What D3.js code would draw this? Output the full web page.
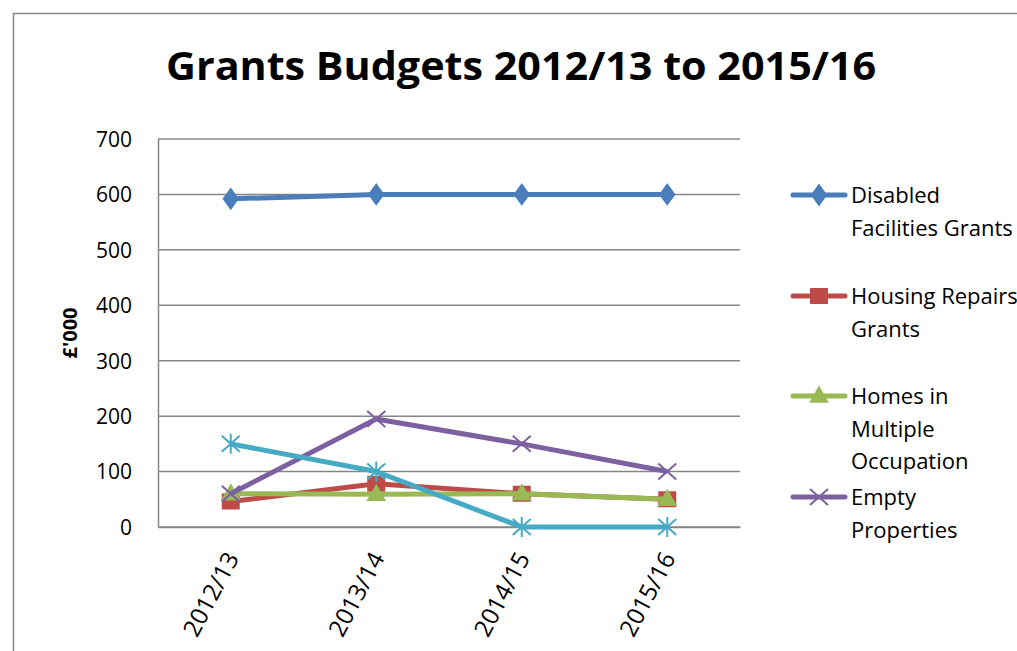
<!DOCTYPE html>
<html>
<head>
<meta charset="utf-8">
<title>Grants Budgets</title>
<script src="https://cdnjs.cloudflare.com/ajax/libs/d3/7.8.5/d3.min.js"></script>
<style>
  body { margin: 0; background: #fff; }
  text { font-family: "Open Sans", "Noto Sans", sans-serif; fill: #000; }
</style>
</head>
<body>
<svg id="chart" width="1017" height="651"></svg>
<script>
// data
const years = ["2012/13", "2013/14", "2014/15", "2015/16"];
const disabledFacilities = [592, 600, 600, 600];
const housingRepairs = [46, 78, 60, 50];
const homesMultiple = [60, 59, 60, 50];
const emptyProperties = [60, 195, 150, 100];
const otherGrants = [150, 100, 0, 0];
const yTicks = [0, 100, 200, 300, 400, 500, 600, 700];

const series = [
  { name: ["Disabled", "Facilities Grants"], values: disabledFacilities, color: "#4a7ebb", marker: "diamond" },
  { name: ["Housing Repairs", "Grants"], values: housingRepairs, color: "#be4b48", marker: "square" },
  { name: ["Homes in", "Multiple", "Occupation"], values: homesMultiple, color: "#98b954", marker: "triangle" },
  { name: ["Empty", "Properties"], values: emptyProperties, color: "#7d60a0", marker: "x" },
  { name: null, values: otherGrants, color: "#46aac5", marker: "star" }
];

const svg = d3.select("#chart");

// outer chart frame (runs off the right and bottom edges)
svg.append("rect")
  .attr("x", 13.5).attr("y", 13.5)
  .attr("width", 1100).attr("height", 700)
  .attr("fill", "none").attr("stroke", "#868686").attr("stroke-width", 1.5);

svg.append("text")
  .attr("x", 521).attr("y", 80)
  .attr("text-anchor", "middle")
  .attr("font-size", 40).attr("font-weight", "bold")
  .attr("textLength", 710).attr("lengthAdjust", "spacingAndGlyphs")
  .text("Grants Budgets 2012/13 to 2015/16");

const plotL = 158, plotR = 740, plotT = 139, plotB = 527;

const x = d3.scaleBand().domain(years).range([plotL, plotR]);
const y = d3.scaleLinear().domain([0, 700]).range([plotB, plotT]);

// gridlines
svg.append("g")
  .selectAll("line")
  .data(yTicks)
  .join("line")
  .attr("x1", plotL).attr("x2", plotR)
  .attr("y1", d => y(d)).attr("y2", d => y(d))
  .attr("stroke", "#868686").attr("stroke-width", 1.5);

// y axis
const yAxis = svg.append("g")
  .attr("transform", `translate(${plotL},0)`)
  .call(d3.axisLeft(y).tickValues(yTicks).tickSize(0).tickPadding(26));
yAxis.select(".domain").attr("stroke", "#868686").attr("stroke-width", 1.5);
yAxis.selectAll("text")
  .attr("font-size", 21)
  .attr("font-family", "Open Sans, sans-serif")
  .attr("dy", "0.35em");

svg.append("text")
  .attr("transform", `translate(77,${(plotT + plotB) / 2}) rotate(-90)`)
  .attr("text-anchor", "middle")
  .attr("font-size", 20).attr("font-weight", "bold")
  .text("£'000");

// x axis
const xAxis = svg.append("g")
  .attr("transform", `translate(0,${plotB})`)
  .call(d3.axisBottom(x).tickSize(0).tickPadding(0));
xAxis.select(".domain").attr("stroke", "#868686").attr("stroke-width", 1.5);
xAxis.selectAll(".tick text")
  .attr("font-size", 24)
  .attr("font-family", "Open Sans, sans-serif")
  .attr("text-anchor", "end")
  .attr("dy", null).attr("y", 0)
  .attr("transform", "translate(9,31) rotate(-62)");

const xc = d => x(d) + x.bandwidth() / 2;

function drawMarker(g, type, color, cx, cy) {
  if (type === "diamond") {
    g.append("path")
      .attr("d", d3.symbol(d3.symbolDiamond, 150)())
      .attr("transform", `translate(${cx},${cy}) scale(1.25,1)`)
      .attr("fill", color);
  } else if (type === "square") {
    g.append("rect")
      .attr("x", cx - 9).attr("y", cy - 8).attr("width", 18).attr("height", 16)
      .attr("fill", color);
  } else if (type === "triangle") {
    g.append("path")
      .attr("d", d3.symbol(d3.symbolTriangle, 170)())
      .attr("transform", `translate(${cx},${cy + 1})`)
      .attr("fill", color);
  } else if (type === "x") {
    g.append("path")
      .attr("d", `M${cx - 9},${cy - 8}L${cx + 9},${cy + 8}M${cx - 9},${cy + 8}L${cx + 9},${cy - 8}`)
      .attr("stroke", color).attr("stroke-width", 2);
  } else if (type === "star") {
    g.append("path")
      .attr("d", `M${cx - 9},${cy - 8}L${cx + 9},${cy + 8}M${cx - 9},${cy + 8}L${cx + 9},${cy - 8}M${cx},${cy - 10}L${cx},${cy + 10}`)
      .attr("stroke", color).attr("stroke-width", 2);
  }
}

const line = d3.line().x((d, i) => xc(years[i])).y(d => y(d));

series.forEach(s => {
  const g = svg.append("g");
  g.append("path")
    .datum(s.values)
    .attr("d", line)
    .attr("fill", "none")
    .attr("stroke", s.color)
    .attr("stroke-width", 5)
    .attr("stroke-linejoin", "round");
  s.values.forEach((v, i) => drawMarker(g, s.marker, s.color, xc(years[i]), y(v)));
});

// legend
const legendRows = [195, 296, 396, 497];
series.filter(s => s.name).forEach((s, i) => {
  const ly = legendRows[i];
  const g = svg.append("g");
  g.append("line")
    .attr("x1", 793).attr("x2", 845)
    .attr("y1", ly).attr("y2", ly)
    .attr("stroke", s.color).attr("stroke-width", 5)
    .attr("stroke-linecap", "round");
  drawMarker(g, s.marker, s.color, 819, ly);
  const t = g.append("text")
    .attr("x", 851).attr("y", ly + 8)
    .attr("font-size", 22);
  s.name.forEach((n, j) => {
    t.append("tspan").attr("x", 851).attr("dy", j === 0 ? 0 : 32.5).text(n);
  });
});
</script>
</body>
</html>
